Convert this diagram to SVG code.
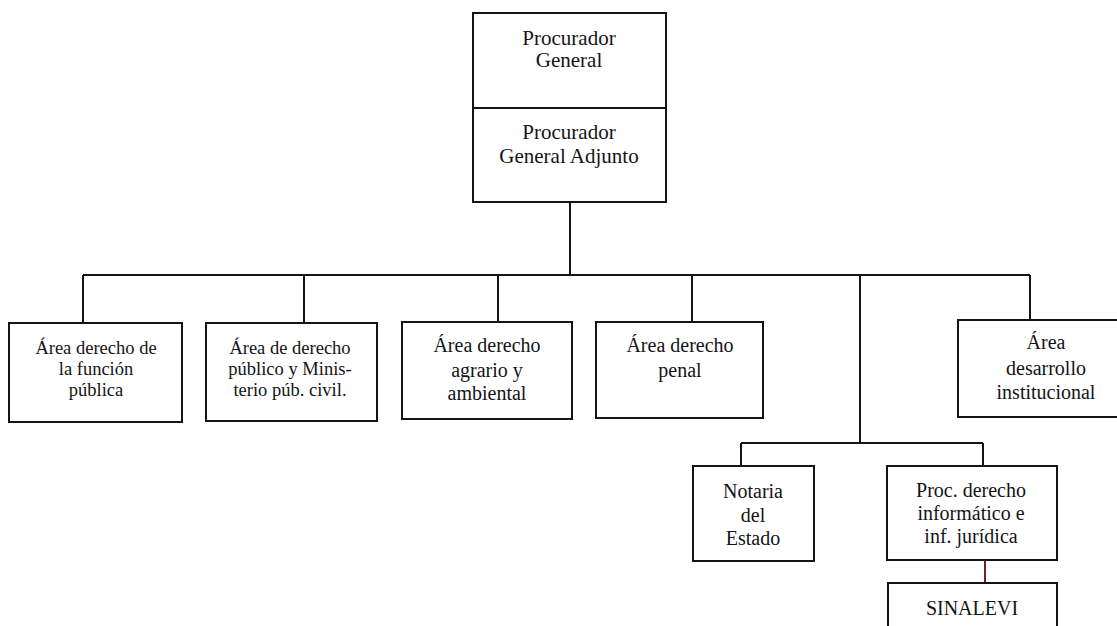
<svg xmlns="http://www.w3.org/2000/svg" width="1117" height="626" viewBox="0 0 1117 626">
<style>
.box{fill:#fff;stroke:#151515;stroke-width:2}
.ln{fill:none;stroke:#151515;stroke-width:2}
.red{fill:none;stroke:#6b2424;stroke-width:2}
text{font-family:"Liberation Serif","Times New Roman",serif;fill:#141414;text-anchor:middle}
.t21{font-size:21px}
.t20{font-size:20px}
.t18{font-size:18.5px}
</style>
<rect width="1117" height="626" fill="#fff"/>
<g id="connectors">
<path class="ln" d="M570 202V275M83 275H1030M83 275V323M304 275V323M498 275V322M692 275V322M1030 275V320M860 275V443M741 443H983M741 443V466M983 443V466"/>
<path class="red" d="M985 560V583"/>
</g>
<g id="procurador">
<rect class="box" x="473" y="13" width="193" height="189"/>
<line class="ln" x1="473" y1="108" x2="666" y2="108"/>
<text class="t21" x="569" y="45">Procurador</text>
<text class="t21" x="569" y="67">General</text>
<text class="t21" x="569" y="139">Procurador</text>
<text class="t21" x="569" y="163">General Adjunto</text>
</g>
<g id="funcion">
<rect class="box" x="9" y="323" width="173" height="99"/>
<text class="t18" x="96" y="354">Área derecho de</text>
<text class="t18" x="96" y="375">la función</text>
<text class="t18" x="96" y="396">pública</text>
</g>
<g id="publico">
<rect class="box" x="206" y="323" width="171" height="98"/>
<text class="t18" x="290" y="354">Área de derecho</text>
<text class="t18" x="290" y="375">público y Minis-</text>
<text class="t18" x="290" y="396">terio púb. civil.</text>
</g>
<g id="agrario">
<rect class="box" x="402" y="322" width="170" height="97"/>
<text class="t20" x="487" y="352">Área derecho</text>
<text class="t20" x="487" y="377">agrario y</text>
<text class="t20" x="487" y="400">ambiental</text>
</g>
<g id="penal">
<rect class="box" x="596" y="322" width="167" height="96"/>
<text class="t20" x="680" y="352">Área derecho</text>
<text class="t20" x="680" y="377">penal</text>
</g>
<g id="desarrollo">
<rect class="box" x="958" y="320" width="170" height="97"/>
<text class="t20" x="1046" y="349">Área</text>
<text class="t20" x="1046" y="375">desarrollo</text>
<text class="t20" x="1046" y="399">institucional</text>
</g>
<g id="notaria">
<rect class="box" x="693" y="466" width="121" height="95"/>
<text class="t20" x="753" y="498">Notaria</text>
<text class="t20" x="753" y="522">del</text>
<text class="t20" x="753" y="545">Estado</text>
</g>
<g id="informatico">
<rect class="box" x="887" y="466" width="170" height="94"/>
<text class="t20" x="971" y="497">Proc. derecho</text>
<text class="t20" x="971" y="520">informático e</text>
<text class="t20" x="971" y="543">inf. jurídica</text>
</g>
<g id="sinalevi">
<rect class="box" x="888" y="583" width="169" height="60"/>
<text class="t20" x="972" y="615">SINALEVI</text>
</g>
</svg>
